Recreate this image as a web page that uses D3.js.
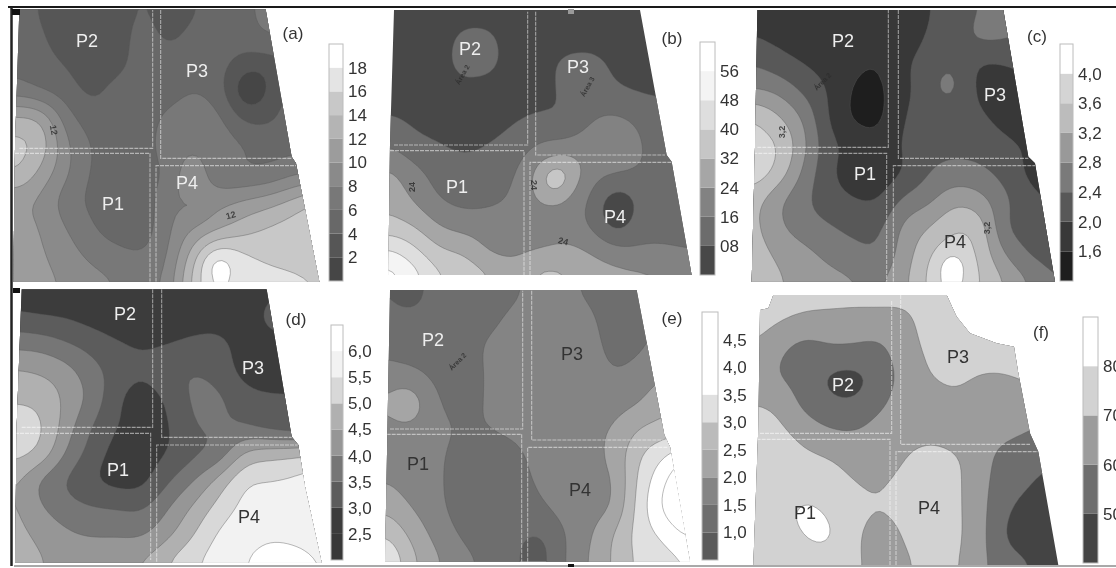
<!DOCTYPE html>
<html><head><meta charset="utf-8">
<style>html,body{margin:0;padding:0;background:#fff;overflow:hidden}svg{display:block;filter:blur(0.45px);font-family:"Liberation Sans",Arial,sans-serif}</style>
<script src="https://cdn.jsdelivr.net/npm/d3@7"></script></head><body>
<svg id="c" width="1116" height="568"></svg>
<script>
// ---- values (13 columns x 11 rows for each map) ----
const gridA=[
[5,3.8,3,3,3,4.2,3.2,3.7,5,5.2,7,7,7],
[5,4.3,3,3,3,4.8,3.6,4.5,5,5,6,6,6],
[5.5,4.8,3.9,3,3.2,5,4.8,5,4.8,3.2,2.9,4,4],
[7,6,5,3.5,4.8,5,5,6,5,1.7,3,4.5,5],
[12.6,12,7,5,4.5,4.9,6.5,7.3,6.6,3.7,3.6,5,5],
[14.6,13.4,8.5,6,4.8,5,7,7.6,7.2,6.2,5.5,5.5,5.5],
[14.2,11.5,8.4,5.8,5,5,6.3,9.5,6.5,6,6.3,7.5,8],
[10.5,9.6,7,5.6,4.5,4.6,7.5,9.5,9.3,10.2,11,12.5,14],
[10.8,10,8,6.3,4.9,4.8,7.5,10,11.5,13,14.2,15,16],
[10.8,10.3,9,7.5,6.8,6.2,7.8,13,17.2,16.3,15.5,15.2,15],
[10.8,10.5,9.8,8.8,8,7.4,8.5,14.5,17.3,17,16.8,16.5,16]];
const gridB=[
[4,4,4,4,4,4,4,4,4,4,4,4,4],
[4,4,4.5,10,9.5,4,4,4,4,4,4,4,4],
[4,4,5,11,10,4.5,5,10,11,6,4,4,4],
[4.5,4,5,5,5,4.5,5,10,12,9,7,6,6],
[8.5,6.5,5,4.5,5,7,9,8.5,15,17,14,12,12],
[15,10,8,6,8,11,16,17.5,20,20,16,13,13],
[25,18,13,11,12,15,26,31,20,18,15.5,14,14],
[30,22.5,15.5,13,13.5,17.5,25,24,15,5,11,13,14],
[34,31,23,20,20,19.5,20,20,15,5,13,14,14.5],
[49,42,33,30.5,22.5,22.5,24,26,23,18,17,16.5,15.5],
[60,52,41,38,33,27,35,33,29,27,26,24.5,22]];
const gridC=[
[1.9,1.8,1.8,1.8,1.8,1.8,1.8,1.98,2.2,2.4,2.6,2.6,2.6],
[2,1.9,1.8,1.8,1.75,1.75,1.8,2.05,2.2,2.5,2.45,2.3,2.3],
[2.4,2.2,2,1.85,1.7,1.6,1.95,2.15,2.35,1.95,2,2.1,2.1],
[2.85,2.75,2.35,2,1.55,1.5,1.9,2.2,2.4,1.9,1.75,2,2],
[3.65,3.3,2.8,2,1.55,1.5,2,2.2,2.2,2.1,1.85,1.8,1.8],
[3.7,3.65,2.95,2.15,1.9,1.75,2.05,2.25,2.3,2.25,2.1,1.95,1.9],
[3.8,3.5,2.75,2.1,1.8,1.75,2,2.4,2.55,2.5,2.25,1.9,1.9],
[3.4,2.9,2.5,2.2,2.05,2,2.5,2.7,3.1,2.95,2.5,2.1,1.95],
[3.35,2.9,2.6,2.45,2.3,2.3,2.9,3.2,3.55,3.45,2.4,2.25,2.15],
[3.4,3.15,2.95,2.7,2.55,2.45,3,3.5,3.8,3.5,2.8,2.35,2.25],
[3.4,3.25,3.1,2.95,2.85,2.75,3.1,3.65,3.75,3.6,3.2,2.8,2.4]];
const gridD=[
[2.7,2.7,2.7,2.7,2.7,2.7,2.7,2.7,2.7,2.7,2.8,3,3],
[3.1,3,2.95,2.8,2.7,2.7,2.7,2.7,2.7,2.7,3,3,3],
[3.85,3.8,3.55,3.3,3.05,2.93,2.98,3.15,3.2,2.7,2.7,2.7,2.7],
[4.55,4.45,4.2,3.7,3.3,3.1,3.4,3.5,3.3,2.8,2.7,2.7,2.7],
[4.95,4.85,4.4,3.85,3.1,2.7,3.1,3.6,3.6,3.2,3.1,3.1,3.1],
[5.2,5.1,4.25,3.5,3,2.8,2.95,3.5,3.55,3.5,3.25,3.1,3.1],
[5.2,4.9,3.95,3.3,2.8,2.8,3,3.4,3.65,4.6,4.8,4.9,5],
[4.6,3.9,3.45,3.05,2.8,2.85,3.45,4,4.7,5.45,5.5,5.6,5.8],
[4.6,4.05,3.7,3.55,3.5,3.45,4,4.6,5.2,5.65,5.75,5.8,5.8],
[4.65,4.4,4.1,3.95,3.95,3.95,4.4,5,5.6,5.85,5.95,5.9,5.85],
[4.7,4.55,4.35,4.45,4.5,4.55,5.05,5.45,5.75,6,6.15,6.15,5.98]];
const gridE=[
[1.05,0.95,1.2,1.25,1.3,1.35,1.7,1.65,1.4,1.3,1.25,1.3,1.3],
[1.3,1.2,1.15,1.2,1.3,1.6,1.75,1.8,1.6,1.3,1.3,1.5,1.5],
[1.4,1.3,1.25,1.25,1.55,1.75,1.8,1.8,1.7,1.35,1.4,1.7,1.7],
[1.6,1.55,1.35,1.2,1.55,1.75,1.85,1.75,1.75,1.5,1.65,1.9,1.9],
[1.95,2.1,1.55,1.25,1.55,1.75,1.8,1.75,1.75,1.75,1.9,2.35,2.3],
[1.8,1.85,1.65,1.45,1.5,1.65,1.75,1.75,1.85,2,2.45,2.6,2.7],
[1.65,1.65,1.6,1.35,1.3,1.35,1.65,1.7,1.8,2.15,2.9,3.4,3.8],
[2,1.75,1.6,1.3,1.25,1.3,1.55,1.7,1.85,1.95,3.1,3.9,4.7],
[2.4,2,1.65,1.3,1.2,1.25,1.4,1.65,1.8,2,3.2,4.1,4.7],
[3,2.4,1.85,1.45,1.2,1.2,1.05,1.45,1.9,2.5,3.2,3.6,4.1],
[3.6,2.7,2.1,1.7,1.4,1.15,0.95,1.45,2,2.55,3.1,3.3,3.5]];
const gridF=[
[75,75,74,74,74,74,73,74,75,75,75,75,75],
[74,70.5,67,66,65,65,67,75,76,76,76,76,76],
[69,62,56,59,59,58,66,72,76,76,75,75,75],
[66,59.5,56,48.5,47,54,64,70,72,69,69.5,72,72],
[70,68,57,52,51,58,65,66,68,66,65,65,65],
[73,72,66,60.5,60,64,66,67,65,64,63,60,58],
[75,75,72,70,66,63,70,73,71,64,56,54,52],
[75,75,76,74,70.5,69,74,75,72,63,54,50,46],
[75,77,82,79,73,70,73,75,72,63,50.5,47,46],
[75,75,80,81.5,72,65,71,75,72,63,48.5,46,46],
[75,75,75,75,72,66,68,74,71,62,55,49.9,46]];

// small closed spots too tight for the grid: [column, row, rise, spread]
const spotsA=[[7.06,7.22,-3.2,.3],[7.96,9.47,3.6,.3],[9.37,2.89,-2.6,.38]];
const spotsB=[[2.74,3.48,11,.24],[6.55,6.4,16,.3],[9,7.6,-3,.45]];
const spotsC=[[4.45,6.15,-.45,.2],[7.9,9.55,.85,.35],[0.05,5.65,.5,.2],[7.6,2.7,.22,.35]];
const spotsD=[[10.4,1,.6,.35]];
const spotsE=[[.8,4.25,.3,.5],[.8,.15,-.4,.35],[6,9.6,-.3,.38],[7,4.1,-.55,.3]];
const spotsF=[];

const thresholdsA=[2,4,6,8,10,12,14,16,18];
const thresholdsB=[8,16,24,32,40,48,56];
const thresholdsC=[1.6,2,2.4,2.8,3.2,3.6,4];
const thresholdsD=[2.5,3,3.5,4,4.5,5,5.5,6];
const thresholdsE=[1,1.5,2,2.5,3,3.5,4,4.5];
const thresholdsF=[50,60,70,80];

const tickLabelsA=["2","4","6","8","10","12","14","16","18"];
const tickLabelsB=["08","16","24","32","40","48","56"];
const tickLabelsC=["1,6","2,0","2,4","2,8","3,2","3,6","4,0"];
const tickLabelsD=["2,5","3,0","3,5","4,0","4,5","5,0","5,5","6,0"];
const tickLabelsE=["1,0","1,5","2,0","2,5","3,0","3,5","4,0","4,5"];
const tickLabelsF=["50","60","70","80"];

const shadesA=["#464646","#565656","#686868","#787878","#8a8a8a","#9c9c9c","#b4b4b4","#c8c8c8","#e4e4e4","#ffffff"];
const shadesB=["#484848","#6c6c6c","#828282","#a6a6a6","#c6c6c6","#dedede","#f4f4f4","#ffffff"];
const shadesC=["#1e1e1e","#383838","#585858","#7a7a7a","#999999","#bcbcbc","#d4d4d4","#ffffff"];
const shadesD=["#383838","#3c3c3c","#5c5c5c","#767676","#969696","#b0b0b0","#d8d8d8","#f2f2f2","#ffffff"];
const shadesE=["#5a5a5a","#6e6e6e","#848484","#a5a5a5","#bbbbbb","#e0e0e0","#ffffff","#ffffff","#ffffff"];
const shadesF=["#444444","#6e6e6e","#9c9c9c","#d2d2d2","#ffffff"];

// ---- layout ----
const panels=[
 {id:"(a)",grid:gridA,spots:spotsA,th:thresholdsA,lab:tickLabelsA,sh:shadesA,ox:0,oy:0,
  box:[45,957,28,848],edge:[[58,28],[797,28],[875,470],[888,490],[958,845],[40,845],[45,440]],
  parcels:[[58,30,458,445],[45,460,450,845],[482,30,875,475],[468,497,888,845]],
  legend:{x:329,w:14,dom:[0,20],top:44,bot:281},tag:[293,35],
  names:[["P2",87,42,"#eee"],["P3",197,72,"#eee"],["P1",113,205,"#eee"],["P4",187,184,"#eee"]],
  small:[["12",53,130,80,9],["12",231,216,-15,9]]},
 {id:"(b)",grid:gridB,spots:spotsB,th:thresholdsB,lab:tickLabelsB,sh:shadesB,ox:375,oy:0,
  box:[40,952,30,830],edge:[[57,30],[795,30],[875,465],[890,485],[950,825],[40,825],[45,430]],
  parcels:[[57,35,458,435],[45,452,447,825],[482,35,870,465],[465,487,890,825]],
  legend:{x:700,w:15,dom:[0,64],top:42,bot:275},tag:[672,40],
  names:[["P2",470,50,"#eee"],["P3",578,68,"#eee"],["P1",457,188,"#eee"],["P4",615,218,"#eee"]],
  small:[["24",413,187,-90,9],["24",533,185,90,9],["24",563,242,15,9],["Área 2",463,75,-60,7],["Área 3",588,87,-60,7]]},
 {id:"(c)",grid:gridC,spots:spotsC,th:thresholdsC,lab:tickLabelsC,sh:shadesC,ox:740,oy:0,
  box:[35,947,30,845],edge:[[52,30],[790,30],[865,470],[885,490],[945,845],[35,845],[45,440]],
  parcels:[[52,30,445,442],[40,460,440,845],[475,30,865,475],[460,497,885,845]],
  legend:{x:1060,w:13,dom:[1.2,4.4],top:44,bot:281},tag:[1037,38],
  names:[["P2",843,42,"#eee"],["P3",995,96,"#eee"],["P1",865,175,"#eee"],["P4",955,243,"#333"]],
  small:[["3,2",783,132,-90,9],["3,2",988,228,-90,9],["Área 2",823,82,-45,7]]},
 {id:"(d)",grid:gridD,spots:spotsD,th:thresholdsD,lab:tickLabelsD,sh:shadesD,ox:0,oy:280,
  box:[45,965,28,848],edge:[[65,28],[800,28],[875,470],[895,495],[915,620],[965,848],[45,848],[50,440]],
  parcels:[[65,28,458,442],[45,460,452,840],[485,28,875,472],[470,495,893,845]],
  legend:{x:331,w:12,dom:[2,6.5],top:325,bot:560},tag:[296,321],
  names:[["P2",125,315,"#eee"],["P3",253,369,"#eee"],["P1",118,471,"#eee"],["P4",249,518,"#333"]],small:[]},
 {id:"(e)",grid:gridE,spots:spotsE,th:thresholdsE,lab:tickLabelsE,sh:shadesE,ox:375,oy:280,
  box:[30,942,30,845],edge:[[45,30],[785,30],[868,465],[885,500],[945,845],[30,845]],
  parcels:[[45,32,443,447],[35,463,440,845],[470,32,865,480],[458,502,880,845]],
  legend:{x:702,w:16,dom:[.5,5],top:312,bot:560},tag:[672,320],
  names:[["P2",433,341,"#eee"],["P3",572,355,"#333"],["P1",418,465,"#333"],["P4",580,491,"#333"]],
  small:[["Área 2",458,362,-45,7]]},
 {id:"(f)",grid:gridF,spots:spotsF,th:thresholdsF,lab:tickLabelsF,sh:shadesF,ox:740,oy:280,
  box:[40,952,45,855],edge:[[100,45],[620,45],[650,110],[690,160],[770,190],[822,200],[835,280],[870,460],[895,515],[955,855],[40,855],[55,440],[60,90],[85,85]],
  parcels:[[60,60,455,460],[50,478,450,855],[482,45,870,493],[468,515,895,855]],
  legend:{x:1083,w:15,dom:[40,90],top:317,bot:563},tag:[1041,334],
  names:[["P2",843,386,"#eee"],["P3",958,358,"#333"],["P1",805,514,"#333"],["P4",929,509,"#333"]],small:[]}
];
const FACTOR=6;
const svg=d3.select("#c");

// Catmull-Rom refinement of a coarse grid, so the bands have the soft outline of the reference
function cr(a,b,c,d,t){return .5*(2*b+(c-a)*t+(2*a-5*b+4*c-d)*t*t+(3*b-a-3*c+d)*t*t*t);}
function refine(g,spots){
 const R=g.length,C=g[0].length,W=(C-1)*FACTOR+1,H=(R-1)*FACTOR+1,out=new Array(W*H);
 const at=(r,c)=>g[Math.max(0,Math.min(R-1,r))][Math.max(0,Math.min(C-1,c))];
 for(let j=0;j<H;j++){const fy=j/FACTOR,r=Math.min(R-2,Math.floor(fy)),ty=fy-r;
  for(let i=0;i<W;i++){const fx=i/FACTOR,c=Math.min(C-2,Math.floor(fx)),tx=fx-c;
   const rows=[-1,0,1,2].map(k=>cr(at(r+k,c-1),at(r+k,c),at(r+k,c+1),at(r+k,c+2),tx));
   let v=cr(rows[0],rows[1],rows[2],rows[3],ty);
   spots.forEach(([sc,sr,a,s])=>{v+=a*Math.exp(-((fx-sc)**2+(fy-sr)**2)/(2*s*s));});
   out[j*W+i]=v;}}
 d3.blur2({data:out,width:W,height:H},1.5);
 return {W,H,out};
}
panels.forEach((p,pi)=>{
 const px=x=>p.ox+x/3,py=y=>p.oy+y/3;
 const clipId="clip"+pi;
 svg.append("clipPath").attr("id",clipId).append("polygon")
   .attr("points",p.edge.map(e=>[px(e[0]),py(e[1])].join(",")).join(" "));
 const g=svg.append("g").attr("clip-path",`url(#${clipId})`);
 const {W,H,out}=refine(p.grid,p.spots);
 const sx=d3.scaleLinear().domain([.5,W-.5]).range([px(p.box[0]),px(p.box[1])]);
 const sy=d3.scaleLinear().domain([.5,H-.5]).range([py(p.box[2]),py(p.box[3])]);
 const path=d3.geoPath(d3.geoTransform({point(x,y){this.stream.point(sx(x),sy(y));}}));
 g.append("rect").attr("x",px(p.box[0])-3).attr("y",py(p.box[2])-3)
  .attr("width",(p.box[1]-p.box[0])/3+6).attr("height",(p.box[3]-p.box[2])/3+6).attr("fill",p.sh[0]);
 g.selectAll("path.band").data(d3.contours().size([W,H]).thresholds(p.th)(out)).join("path")
  .attr("class","band").attr("d",path)
  .attr("fill",(d,i)=>p.sh[i+1])
  .attr("stroke","#5a5a5a").attr("stroke-opacity",.6).attr("stroke-width",.7);
 // parcels: faint double white lines along the inner sides only (order P2, P1, P3, P4)
 const line=d3.line();
 g.selectAll("path.parcel").data(p.parcels).join("path").attr("class","parcel")
  .attr("d",(d,i)=>{const [a,b,c,e]=[px(d[0]),py(d[1]),px(d[2]),py(d[3])];
    return line([[[a,e],[c,e],[c,b]],[[a,b],[c,b],[c,e]],[[a,b],[a,e],[c,e]],[[a,e],[a,b],[c,b]]][i]);})
  .attr("fill","none").attr("stroke","#fff").attr("stroke-opacity",.5).attr("stroke-width",1.1).attr("stroke-dasharray","4 1");
 // legend
 const L=p.legend, ly=d3.scaleLinear().domain(L.dom).range([L.bot,L.top]);
 const edges=[L.dom[0],...p.th,L.dom[1]];
 svg.append("g").selectAll("rect").data(p.sh).join("rect")
  .attr("x",L.x).attr("width",L.w)
  .attr("y",(d,i)=>ly(edges[i+1])).attr("height",(d,i)=>ly(edges[i])-ly(edges[i+1])).attr("fill",d=>d);
 svg.append("rect").attr("x",L.x).attr("y",L.top).attr("width",L.w).attr("height",L.bot-L.top)
  .attr("fill","none").attr("stroke","#bcbcbc").attr("stroke-width",1);
 const ax=svg.append("g").attr("transform",`translate(${L.x+L.w},0)`)
  .call(d3.axisRight(ly).tickValues(p.th).tickFormat((d,i)=>p.lab[i]).tickSize(0).tickPadding(5));
 ax.select(".domain").remove();
 ax.selectAll("text").attr("font-size",17).attr("fill","#333").attr("font-family","Liberation Sans");
 // text
 svg.append("text").attr("x",p.tag[0]).attr("y",p.tag[1]).attr("text-anchor","middle").attr("dominant-baseline","middle")
  .attr("font-size",17).attr("fill","#333").text(p.id);
 svg.append("g").selectAll("text").data(p.names).join("text")
  .attr("x",d=>d[1]).attr("y",d=>d[2]).attr("text-anchor","middle").attr("dominant-baseline","middle")
  .attr("font-size",18).attr("fill",d=>d[3]).text(d=>d[0]);
 svg.append("g").selectAll("text").data(p.small).join("text")
  .attr("transform",d=>`translate(${d[1]},${d[2]}) rotate(${d[3]})`)
  .attr("text-anchor","middle").attr("dominant-baseline","middle")
  .attr("font-size",d=>d[4]).attr("font-weight","bold").attr("fill","#2c2c2c").attr("fill-opacity",.8).text(d=>d[0]);
});
// frame of the scanned figure
const frame=svg.append("g");
[[8,7,1116,7,2,"#1a1a1a"],[11.5,7,11.5,566,2.5,"#222"],[14,566,1116,566,1.2,"#555"]].forEach(l=>
 frame.append("line").attr("x1",l[0]).attr("y1",l[1]).attr("x2",l[2]).attr("y2",l[3]).attr("stroke-width",l[4]).attr("stroke",l[5]));
[[12,9,8,6,"#111"],[13,288,7,5,"#111"],[568,9,6,5,"#999"],[568,564,6,3,"#111"]].forEach(r=>
 frame.append("rect").attr("x",r[0]).attr("y",r[1]).attr("width",r[2]).attr("height",r[3]).attr("fill",r[4]));
</script></body></html>
